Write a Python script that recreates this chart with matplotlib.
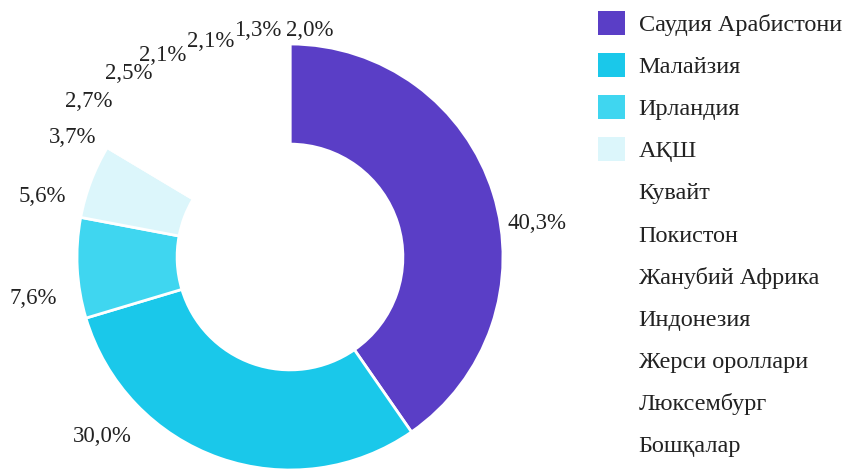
import numpy as np
import matplotlib
matplotlib.use("Agg")
import matplotlib.pyplot as plt

# ---- data ----
countries = ["Саудия Арабистони", "Малайзия", "Ирландия", "АҚШ", "Кувайт",
             "Покистон", "Жанубий Африка", "Индонезия", "Жерси ороллари",
             "Люксембург", "Бошқалар"]
shares = [40.3, 30.0, 7.6, 5.6, 3.7, 2.7, 2.5, 2.1, 2.1, 1.3, 2.0]
share_labels = ["40,3%", "30,0%", "7,6%", "5,6%", "3,7%", "2,7%", "2,5%",
                "2,1%", "2,1%", "1,3%", "2,0%"]

# ---- style / layout ----
colors = ["#5a3ec6", "#1ac8ea", "#3fd6f0", "#dcf6fb", "#ffffff",
          "#ffffff", "#ffffff", "#ffffff", "#ffffff", "#ffffff", "#ffffff"]
label_angle_shift = [-9, -27.4, 5.7, 6.5, 8.2, 11, 9.5, 8.8, 4.3, -1.5, -8.6]
label_radius = [1.17, 1.21, 1.22, 1.20, 1.17, 1.20, 1.155, 1.13, 1.09, 1.085, 1.08]

W, H = 844, 469
cx, cy, R = 290, 257, 213  # pixel layout of the donut

plt.rcParams['font.family'] = ['Liberation Serif', 'DejaVu Serif']

fig = plt.figure(figsize=(W / 100, H / 100), dpi=100)
ax = fig.add_axes([0, 0, 1, 1])

wedges, _ = ax.pie(shares, colors=colors, startangle=90, counterclock=False,
                   radius=1, wedgeprops=dict(width=0.47, edgecolor="white", linewidth=2))
ax.set_xlim(-cx / R, (W - cx) / R)
ax.set_ylim(-(H - cy) / R, cy / R)
ax.set_aspect('equal')
ax.axis('off')

for w, lab, da, r in zip(wedges, share_labels, label_angle_shift, label_radius):
    ang = np.deg2rad((w.theta1 + w.theta2) / 2 + da)
    ax.text(r * np.cos(ang), r * np.sin(ang), lab, ha="center", va="center_baseline",
            fontsize=16.5, color="#222222")

leg = ax.legend(wedges, countries, loc="upper left",
                bbox_to_anchor=(598 / W, 1 - 11 / H), bbox_transform=fig.transFigure,
                frameon=False, fontsize=17.5, handlelength=1.12, handleheight=1.12,
                handletextpad=0.55, labelspacing=0.7, borderpad=0, borderaxespad=0)
for t in leg.get_texts():
    t.set_color("#222222")
for h in leg.legend_handles:
    h.set_edgecolor("none")

fig.savefig("out.png", dpi=100)
